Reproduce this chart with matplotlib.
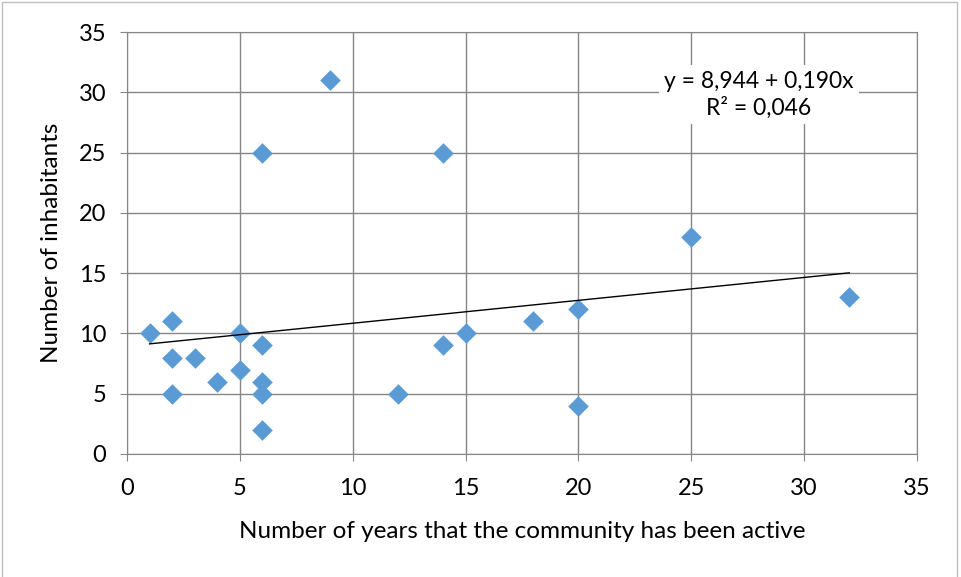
import matplotlib.pyplot as plt
from matplotlib.patches import Rectangle

years = [1, 2, 2, 2, 3, 4, 5, 5, 6, 6, 6, 6, 6, 9, 12, 14, 14, 15, 18, 20, 20, 25, 32]
inhabitants = [10, 11, 8, 5, 8, 6, 10, 7, 25, 9, 6, 5, 2, 31, 5, 25, 9, 10, 11, 12, 4, 18, 13]
intercept = 8.944
slope = 0.190
r2 = 0.046
ticks = [0, 5, 10, 15, 20, 25, 30, 35]

plt.rcParams['font.family'] = ['Lato', 'DejaVu Sans']

fig = plt.figure(figsize=(9.61, 5.77), dpi=100)
ax = fig.add_axes([0.1322, 0.2132, 0.822, 0.7313])

# outer chart frame
fig.patches.append(Rectangle((0.002, -0.01), 0.994, 1.006, transform=fig.transFigure,
                             fill=False, edgecolor='#bfbfbf', linewidth=1))

ax.scatter(years, inhabitants, marker='D', s=110, color='#5b9bd5', zorder=3, linewidths=0)

x0, x1 = min(years), max(years)
ax.plot([x0, x1], [intercept + slope * x0, intercept + slope * x1], color='black', linewidth=1, zorder=4)

ax.text(28.0, 29.8, 'y = 8,944 + 0,190x\nR² = 0,046', ha='center', va='center', fontsize=16.5,
        linespacing=1.25, zorder=5, bbox=dict(facecolor='white', edgecolor='none', pad=4))

ax.set_xlim(0, 35)
ax.set_ylim(0, 35)
ax.set_xticks(ticks)
ax.set_yticks(ticks)
ax.grid(True, color='#868686', linewidth=1)
ax.set_axisbelow(True)
for s in ax.spines.values():
    s.set_color('#868686')
ax.tick_params(colors='#868686', labelcolor='black', labelsize=17, length=5)
ax.tick_params(axis='x', pad=12)
ax.tick_params(axis='y', pad=10)

ax.set_xlabel('Number of years that the community has been active', fontsize=17.5, labelpad=16)
ax.set_ylabel('Number of inhabitants', fontsize=17.5, labelpad=12)

plt.savefig('out.png', dpi=100)
